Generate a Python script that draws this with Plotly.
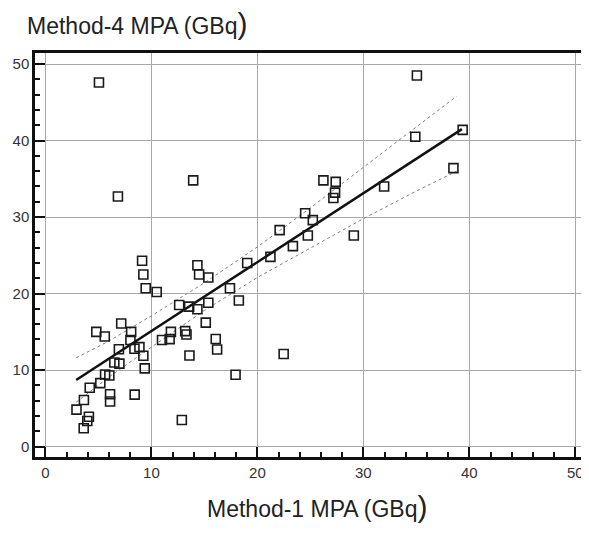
import plotly.graph_objects as go

# Scatter data (Method-1 vs Method-4 MPA, GBq)
method1 = [5.05, 6.84, 13.94, 35.05, 34.9, 39.37, 38.5, 31.96, 26.23, 27.39,
           27.33, 27.17, 24.51, 25.23, 24.76, 23.35, 22.1, 21.23, 29.1, 19.04,
           17.41, 18.25, 14.34, 14.5, 15.37, 12.62, 13.56, 14.34, 15.37, 15.13,
           16.07, 16.2, 13.19, 13.31, 13.59, 11.84, 11.0, 11.72, 10.5, 9.12,
           9.24, 9.46, 7.15, 4.8, 5.6, 8.09, 8.02, 6.93, 8.4, 8.87,
           9.24, 9.37, 6.5, 6.98, 5.63, 6.03, 5.18, 4.18, 6.1, 6.1,
           8.42, 3.63, 2.93, 4.1, 3.95, 3.61, 12.87, 17.94, 22.48]
method4 = [47.6, 32.7, 34.8, 48.5, 40.5, 41.4, 36.4, 34.0, 34.8, 34.6,
           33.2, 32.5, 30.5, 29.6, 27.6, 26.2, 28.3, 24.8, 27.6, 24.0,
           20.7, 19.1, 23.7, 22.5, 22.1, 18.5, 18.3, 17.95, 18.8, 16.2,
           14.07, 12.7, 15.1, 14.65, 11.9, 15.0, 13.93, 14.05, 20.2, 24.3,
           22.5, 20.7, 16.1, 15.0, 14.4, 15.0, 13.93, 12.72, 12.8, 13.0,
           11.88, 10.23, 11.0, 10.85, 9.43, 9.3, 8.3, 7.7, 6.85, 5.9,
           6.8, 6.09, 4.83, 3.91, 3.35, 2.4, 3.48, 9.4, 12.1]

# Regression line end points
fit_x = [2.9, 39.3]
fit_y = [8.7, 41.5]

# Confidence band read at several x positions
band_x = [2.9, 6, 10, 15, 20, 25, 30, 35, 38.8]
band_upper = [11.6, 13.8, 17.1, 21.4, 26.1, 31.2, 36.5, 41.8, 45.8]
band_lower = [5.8, 9.1, 13.0, 17.8, 22.1, 26.0, 29.8, 33.4, 36.0]

tick_vals = [0, 10, 20, 30, 40, 50]
tick_text = ["0", "10", "20", "30", "40", "50"]

fig = go.Figure()
band_style = dict(color="#808080", width=1, dash="dot")
fig.add_trace(go.Scatter(x=band_x, y=band_upper, mode="lines", line=band_style,
                         showlegend=False, hoverinfo="skip"))
fig.add_trace(go.Scatter(x=band_x, y=band_lower, mode="lines", line=band_style,
                         showlegend=False, hoverinfo="skip"))
fig.add_trace(go.Scatter(x=fit_x, y=fit_y, mode="lines",
                         line=dict(color="#111111", width=2.5), showlegend=False))
fig.add_trace(go.Scatter(x=method1, y=method4, mode="markers",
                         marker=dict(symbol="square-open", size=9, color="#1a1a1a",
                                     line=dict(width=1.6, color="#1a1a1a")),
                         showlegend=False))

axis_common = dict(
    showgrid=True, gridcolor="#a8a8a8", gridwidth=1,
    zeroline=False,
    showline=True, linecolor="#111111", linewidth=2.5, mirror=True,
    ticks="inside", ticklen=10, tickwidth=1.8, tickcolor="#111111",
    tickvals=tick_vals, ticktext=tick_text,
    tickfont=dict(family="Liberation Sans, Arial, sans-serif", size=15, color="#333333"),
    minor=dict(dtick=2, ticks="inside", ticklen=5, tickwidth=1.5,
               tickcolor="#111111", showgrid=False),
)

fig.update_xaxes(range=[-0.985, 50.82], **axis_common)
fig.update_yaxes(range=[-1.36, 51.45], **axis_common)

# page body adds an 8px margin, so the figure is sized/offset to compensate
fig.update_layout(
    width=581, height=525,
    margin=dict(l=27, r=2, t=45, b=76),
    paper_bgcolor="white", plot_bgcolor="white",
    font=dict(family="Liberation Sans, Arial, sans-serif", color="#222222"),
    annotations=[
        dict(text="Method-4 MPA (GBq<span style='font-size:30px'>)</span>",
             xref="paper", yref="paper", x=-0.018, y=1.0, yshift=30,
             xanchor="left", yanchor="middle", showarrow=False,
             font=dict(size=23, color="#222222")),
        dict(text="Method-1 MPA (GBq<span style='font-size:30px'>)</span>",
             xref="paper", yref="paper", x=0.514, y=0, yshift=-49,
             xanchor="center", yanchor="middle", showarrow=False,
             font=dict(size=23, color="#222222")),
    ],
)

fig.write_html("out.html")
